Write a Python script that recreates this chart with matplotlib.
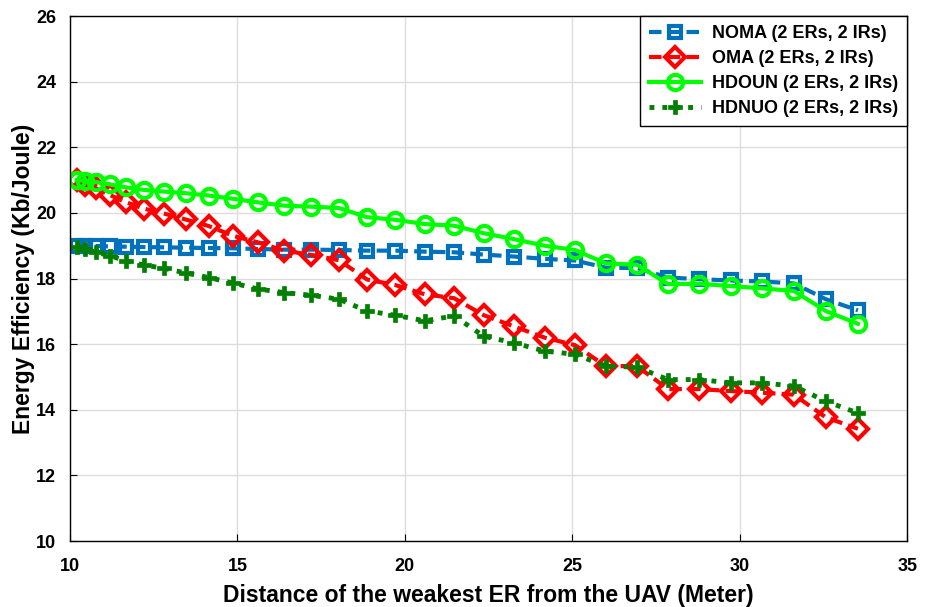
import matplotlib.pyplot as plt

plt.rcParams['font.family'] = ['Liberation Sans', 'DejaVu Sans']
plt.rcParams['font.weight'] = 'bold'

# distance of the weakest ER (m)
dist = [10.20, 10.44, 10.77, 11.18, 11.66, 12.21, 12.81, 13.45, 14.14, 14.87,
        15.62, 16.40, 17.20, 18.03, 18.87, 19.72, 20.59, 21.47, 22.36, 23.26,
        24.17, 25.08, 26.00, 26.93, 27.86, 28.79, 29.73, 30.68, 31.62, 32.57, 33.53]

noma = [19.00, 19.00, 18.99, 18.98, 18.97, 18.96, 18.95, 18.94, 18.93, 18.92,
        18.90, 18.88, 18.88, 18.87, 18.85, 18.85, 18.82, 18.80, 18.73, 18.67,
        18.60, 18.55, 18.33, 18.32, 18.03, 17.98, 17.94, 17.91, 17.85, 17.37, 17.03]

oma = [21.00, 20.85, 20.75, 20.55, 20.33, 20.13, 19.98, 19.80, 19.60, 19.30,
       19.10, 18.85, 18.72, 18.56, 17.97, 17.80, 17.52, 17.40, 16.88, 16.54,
       16.20, 15.97, 15.33, 15.33, 14.63, 14.63, 14.57, 14.52, 14.46, 13.77, 13.42]

hdoun = [21.00, 20.98, 20.94, 20.87, 20.78, 20.70, 20.65, 20.60, 20.53, 20.43,
         20.32, 20.22, 20.19, 20.15, 19.87, 19.79, 19.66, 19.61, 19.38, 19.20,
         19.00, 18.87, 18.46, 18.42, 17.83, 17.84, 17.77, 17.70, 17.62, 17.01, 16.62]

hdnuo = [18.97, 18.90, 18.80, 18.70, 18.54, 18.41, 18.31, 18.17, 18.03, 17.86,
         17.68, 17.57, 17.49, 17.37, 17.01, 16.88, 16.71, 16.86, 16.24, 16.04,
         15.79, 15.69, 15.33, 15.30, 14.92, 14.92, 14.82, 14.82, 14.72, 14.26, 13.90]

fig = plt.figure(figsize=(9.25, 6.07), dpi=100)
ax = fig.add_axes([0.0757, 0.1087, 0.905, 0.8649])

ax.plot(dist, noma, '--s', color='#0072BD', lw=3, ms=9, mew=3, mfc='none',
        dashes=(3, 1.5), label='NOMA (2 ERs, 2 IRs)')
ax.plot(dist, oma, '--D', color='#FF0000', lw=3, ms=10, mew=3, mfc='none',
        dashes=(3, 1.5), label='OMA (2 ERs, 2 IRs)')
ax.plot(dist, hdoun, '-o', color='#00FF00', lw=3, ms=11, mew=3, mfc='none',
        label='HDOUN (2 ERs, 2 IRs)')
ax.plot(dist, hdnuo, ':P', color='#007F00', lw=3.5, ms=10, mew=0.5,
        label='HDNUO (2 ERs, 2 IRs)')

ax.set_xlim(10, 35)
ax.set_ylim(10, 26)
ax.set_xticks(range(10, 36, 5))
ax.set_yticks(range(10, 27, 2))
ax.grid(True, color='#dddddd', lw=1)
ax.set_axisbelow(True)
ax.tick_params(direction='in', labelsize=13, length=5)
ax.tick_params(axis='x', pad=12)
ax.tick_params(axis='y', pad=10)
for lbl in ax.get_xticklabels() + ax.get_yticklabels():
    lbl.set_fontweight('bold')
for s in ax.spines.values():
    s.set_linewidth(1)

ax.set_xlabel('Distance of the weakest ER from the UAV (Meter)', fontsize=16.5,
              fontweight='bold', labelpad=7)
ax.set_ylabel('Energy Efficiency (Kb/Joule)', fontsize=16.5, fontweight='bold',
              labelpad=1)

leg = ax.legend(loc='upper right', prop={'size': 13, 'weight': 'bold'},
                handlelength=2.9, handletextpad=0.6,
                fancybox=False, edgecolor='black', framealpha=1,
                borderaxespad=0.0, labelspacing=0.45, borderpad=0.5)
leg.get_frame().set_linewidth(1)

plt.savefig('out.png', dpi=100)
plt.close()
